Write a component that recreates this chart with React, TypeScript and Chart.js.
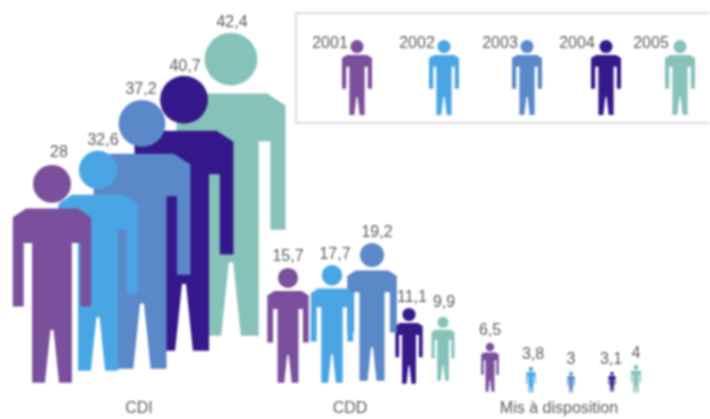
import React, { useEffect, useRef } from "react";
import { Chart, registerables } from "chart.js";

Chart.register(...registerables);

// --- data ---
const categories = ["CDI", "CDD", "Mis à disposition"];
const years = ["2001", "2002", "2003", "2004", "2005"];
const values2001 = [28, 15.7, 6.5];
const values2002 = [32.6, 17.7, 3.8];
const values2003 = [37.2, 19.2, 3];
const values2004 = [40.7, 11.1, 3.1];
const values2005 = [42.4, 9.9, 4];
const seriesValues = [values2001, values2002, values2003, values2004, values2005];

// --- layout (axis units: x is tenths of the width in px, y is value units) ---
const colors = ["#7a4f9c", "#4aa5e5", "#5b88c8", "#35198a", "#86c2ba"];
const slotX = [
  [5.2, 28.8, 49.0],
  [9.8, 33.2, 53.1],
  [14.2, 37.2, 57.1],
  [18.4, 40.9, 61.2],
  [23.1, 44.3, 63.6],
];
const lift = [
  [2.07, 2.07, 0.83],
  [3.73, 2.07, 0.69],
  [4.0, 2.35, 0.69],
  [6.5, 1.93, 0.83],
  [8.57, 2.35, 0.69],
];
const fit = [
  [1.076, 1.012, 1.042],
  [0.933, 0.921, 0.945],
  [0.999, 0.993, 0.967],
  [0.934, 0.946, 0.892],
  [0.988, 0.893, 0.967],
];
const labelDx = [
  [7, 0, 0],
  [5, 3, 2],
  [-1, 5, 0],
  [1, 3, -1],
  [1, 1, 0],
];
const labelDy = [
  [-12, -11, -12],
  [-10, -10, -12],
  [-10, -10, -12],
  [-9, -10, -12],
  [-10, -14, -11],
];
const categoryTickX = [13.9, 35.0, 55.9];
const legendFigureX = [357, 444, 527, 606, 680];
const legendLabelX = [330, 417, 500, 577, 651];

const FONT = '16px "Liberation Sans", Arial, sans-serif';
const TEXT = "#5c5c5c";

function drawPerson(ctx: CanvasRenderingContext2D, cx: number, top: number, h: number, color: string, wr = 0.36) {
  const w = h * wr;
  const y = (v: number) => top + v * h;
  const outline: [number, number][] = [
    [0.33, 0.2],
    [0.5, 0.24],
    [0.5, 0.65],
    [0.361, 0.65],
    [0.361, 0.358],
    [0.253, 0.358],
    [0.253, 1],
    [0.09, 1],
    [0.02, 0.757],
  ];
  ctx.fillStyle = color;
  ctx.beginPath();
  ctx.arc(cx, top + h * 0.087, h * 0.087, 0, Math.PI * 2);
  ctx.fill();
  ctx.beginPath();
  outline.forEach(([u, v], i) => {
    const px = cx + u * w;
    if (i === 0) ctx.moveTo(px, y(v));
    else ctx.lineTo(px, y(v));
  });
  for (let i = outline.length - 1; i >= 0; i--) {
    const [u, v] = outline[i];
    ctx.lineTo(cx - u * w, y(v));
  }
  ctx.closePath();
  ctx.fill();
}

const personPlugin = {
  id: "person",
  afterDatasetsDraw(chart: any) {
    const { ctx, scales } = chart;
    const xs = scales.x;
    const ys = scales.y;
    ctx.save();
    ctx.textAlign = "center";
    ctx.textBaseline = "middle";
    ctx.font = FONT;
    // back to front: last year first
    for (let d = chart.data.datasets.length - 1; d >= 0; d--) {
      const ds = chart.data.datasets[d];
      ds.data.forEach((pt: any, i: number) => {
        const bottom = ys.getPixelForValue(pt.y);
        const top = ys.getPixelForValue(pt.y + pt.v * fit[d][i]);
        drawPerson(ctx, xs.getPixelForValue(pt.x), top, bottom - top, ds.backgroundColor);
      });
    }
    ctx.fillStyle = TEXT;
    chart.data.datasets.forEach((ds: any, d: number) => {
      ds.data.forEach((pt: any, i: number) => {
        const top = ys.getPixelForValue(pt.y + pt.v * fit[d][i]);
        const text = String(pt.v).replace(".", ",");
        ctx.fillText(text, xs.getPixelForValue(pt.x) + labelDx[d][i], top + labelDy[d][i]);
      });
    });
    // legend box
    ctx.strokeStyle = "#dcdce6";
    ctx.lineWidth = 2;
    ctx.beginPath();
    ctx.moveTo(712, 13);
    ctx.lineTo(296, 13);
    ctx.lineTo(296, 123);
    ctx.lineTo(712, 123);
    ctx.stroke();
    chart.data.datasets.forEach((ds: any, d: number) => {
      drawPerson(ctx, legendFigureX[d], 40, 75, ds.backgroundColor, 0.4);
      ctx.fillStyle = TEXT;
      ctx.fillText(ds.label, legendLabelX[d], 44);
    });
    ctx.restore();
  },
};

export default function App() {
  const ref = useRef<HTMLCanvasElement>(null);
  useEffect(() => {
    const chart = new Chart(ref.current!, {
      type: "scatter",
      data: {
        datasets: years.map((year, d) => ({
          label: year,
          backgroundColor: colors[d],
          pointRadius: 0,
          data: seriesValues[d].map((v, i) => ({ x: slotX[d][i], y: lift[d][i], v })),
        })),
      },
      options: {
        animation: false,
        responsive: false,
        layout: { padding: 0 },
        plugins: { legend: { display: false }, tooltip: { enabled: false } },
        scales: {
          x: {
            type: "linear",
            min: 0,
            max: 71,
            grid: { display: false, drawTicks: false },
            border: { display: false },
            afterBuildTicks: (axis: any) => {
              axis.ticks = categoryTickX.map((value) => ({ value }));
            },
            ticks: {
              autoSkip: false,
              maxRotation: 0,
              padding: 1,
              color: TEXT,
              font: { family: '"Liberation Sans", Arial, sans-serif', size: 16 },
              callback: (_v: any, i: number) => categories[i],
            },
          },
          y: { type: "linear", display: false, min: 0, max: 55 },
        },
      },
      plugins: [personPlugin],
    } as any);
    return () => chart.destroy();
  }, []);
  return (
    <div style={{ position: "absolute", left: 0, top: 0, width: 710, height: 419, background: "#fff", overflow: "hidden" }}>
      <canvas ref={ref} width={710} height={419} style={{ display: "block", filter: "blur(0.8px)" }} />
    </div>
  );
}
